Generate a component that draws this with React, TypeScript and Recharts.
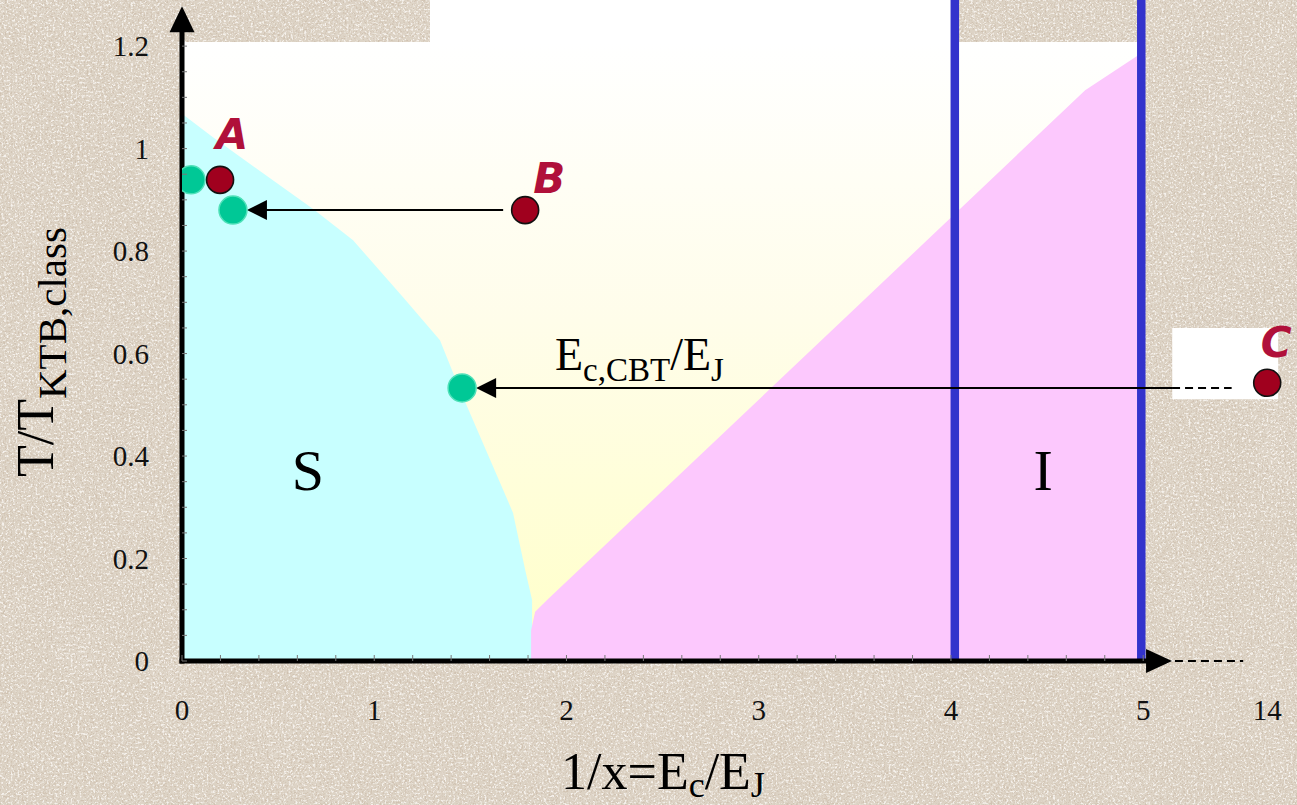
import React from 'react';
import {
  ComposedChart,
  XAxis,
  YAxis,
  Area,
  Scatter,
  ReferenceArea,
  ReferenceLine,
  ReferenceDot,
  Label,
} from 'recharts';

const W = 1297;
const H = 805;
const PLOT_LEFT = 182;
const PLOT_BOTTOM = 661;
const X_MAX = 5.8;
const Y_MAX = 1.29;

// the axis is broken after 5: the far value 14 sits on a short stub
const BREAK_POS = 5.645;
const BREAK_START = 5.15;
const toAxis = (v: number) => (v <= 5 ? v : 5 + ((v - 5) / 9) * (BREAK_POS - 5));

const SERIF = '"Liberation Serif", "DejaVu Serif", serif';
const LETTER_FONT = '"DejaVu Sans", "Noto Sans", sans-serif';

const xTickValues = [0, 1, 2, 3, 4, 5, 14];
const yTickValues = [0, 0.2, 0.4, 0.6, 0.8, 1, 1.2];

// superconducting region S (below this line)
const superBoundary = [
  { x: 0, y: 1.068 },
  { x: 0.161, y: 1.022 },
  { x: 0.682, y: 0.882 },
  { x: 0.89, y: 0.821 },
  { x: 1.15, y: 0.71 },
  { x: 1.342, y: 0.626 },
  { x: 1.446, y: 0.529 },
  { x: 1.722, y: 0.289 },
  { x: 1.785, y: 0.178 },
  { x: 1.821, y: 0.119 },
  { x: 1.821, y: 0 },
];

// insulating region I (below this line)
const insulBoundary = [
  { x: 1.816, y: 0 },
  { x: 1.816, y: 0.06 },
  { x: 1.837, y: 0.096 },
  { x: 1.899, y: 0.119 },
  { x: 3.476, y: 0.679 },
  { x: 4.698, y: 1.114 },
  { x: 4.974, y: 1.182 },
];

// samples: measured (red) and renormalised (green)
const greenPoints = [
  { x: 0.047, y: 0.939 },
  { x: 0.265, y: 0.88 },
  { x: 1.457, y: 0.533 },
];
const redPoints = [
  { name: 'A', x: 0.198, y: 0.939 },
  { name: 'B', x: 1.785, y: 0.88 },
  { name: 'C', x: 14, y: 0.543 },
];

// blue sample lines
const sampleLines = [4.02, 4.99];

const redData = redPoints.map((p) => ({ ...p, x: toAxis(p.x) }));
const arrows = [
  { from: redPoints[1], to: greenPoints[1] },
  { from: redPoints[2], to: greenPoints[2] },
];

const letterOffset: Record<string, [number, number]> = {
  A: [12, -31],
  B: [24, -17],
  C: [9, -26],
};

const xMinor = Array.from({ length: 26 }, (_, i) => +(i * 0.2).toFixed(1));
const xAxisTicks = [...xMinor, BREAK_POS];
const yAxisTicks = Array.from({ length: 25 }, (_, i) => +(i * 0.05).toFixed(2));

const xLabelAt = (v: number) => {
  const t = xTickValues.find((tv) => Math.abs(toAxis(tv) - v) < 1e-6);
  return t === undefined ? null : String(t);
};
const yLabelAt = (v: number) => {
  const t = yTickValues.find((tv) => Math.abs(tv - v) < 1e-6);
  return t === undefined ? null : String(t);
};

const XTick = (props: any) => {
  const { x, payload } = props;
  const label = xLabelAt(payload.value);
  return (
    <g>
      {payload.value <= 5.001 && (
        <line x1={x} x2={x} y1={PLOT_BOTTOM - 6} y2={PLOT_BOTTOM} stroke="#777" strokeWidth={1} />
      )}
      {label && (
        <text x={x} y={720} textAnchor="middle" fontFamily={SERIF} fontSize={29} fill="#111">
          {label}
        </text>
      )}
    </g>
  );
};

const YTick = (props: any) => {
  const { y, payload } = props;
  const label = yLabelAt(payload.value);
  return (
    <g>
      <line x1={PLOT_LEFT} x2={PLOT_LEFT + 5} y1={y} y2={y} stroke="#777" strokeWidth={1} />
      {label && (
        <text x={149} y={y + 10} textAnchor="end" fontFamily={SERIF} fontSize={29} fill="#111">
          {label}
        </text>
      )}
    </g>
  );
};

const GreenDot = (props: any) => (
  <circle cx={props.cx} cy={props.cy} r={14} fill="#00c896" stroke="#4fe0b8" strokeWidth={1.5} />
);

const RedDot = (props: any) => {
  const { cx, cy, payload } = props;
  const [dx, dy] = letterOffset[payload.name] || [14, -28];
  return (
    <g>
      <circle cx={cx} cy={cy} r={13.5} fill="#a0001e" stroke="#111" strokeWidth={1.6} />
      <text
        x={cx + dx}
        y={cy + dy}
        textAnchor="middle"
        fontFamily={LETTER_FONT}
        fontWeight="bold"
        fontStyle="italic"
        fontSize={42}
        fill="#b0103a"
      >
        {payload.name}
      </text>
    </g>
  );
};

// horizontal arrow with a filled head pointing at x2
const ArrowShape = (broken: boolean) => (props: any) => {
  const { x1, x2, y1 } = props;
  const pxPerUnit = (W - PLOT_LEFT) / X_MAX;
  const tip = x2 + 14;
  const start = broken ? PLOT_LEFT + BREAK_START * pxPerUnit : x1 - 22;
  const head = 20;
  return (
    <g>
      <line x1={tip + head - 2} x2={start} y1={y1} y2={y1} stroke="#000" strokeWidth={2} />
      <polygon points={`${tip},${y1} ${tip + head},${y1 - 10} ${tip + head},${y1 + 10}`} fill="#000" />
      {broken && (
        <line
          x1={start}
          x2={PLOT_LEFT + 5.46 * pxPerUnit}
          y1={y1}
          y2={y1}
          stroke="#000"
          strokeWidth={2}
          strokeDasharray="8 5"
        />
      )}
    </g>
  );
};

const XAxisLine = (props: any) => {
  const { x1, x2, y1 } = props;
  return (
    <g>
      <line x1={x1 - 2.5} x2={x2 - 22} y1={y1} y2={y1} stroke="#000" strokeWidth={5} />
      <polygon points={`${x2},${y1} ${x2 - 26},${y1 - 12} ${x2 - 26},${y1 + 12}`} fill="#000" />
    </g>
  );
};

const YAxisLine = (props: any) => {
  const { x1, y1, y2 } = props;
  return (
    <g>
      <line x1={x1} x2={x1} y1={y1 + 2.5} y2={y2 + 22} stroke="#000" strokeWidth={5} />
      <polygon points={`${x1},${y2} ${x1 - 12.5},${y2 + 26} ${x1 + 12.5},${y2 + 26}`} fill="#000" />
    </g>
  );
};

const DashedStub = (props: any) => (
  <line
    x1={props.x1}
    x2={props.x2}
    y1={props.y1}
    y2={props.y2}
    stroke="#000"
    strokeWidth={2}
    strokeDasharray="8 5"
  />
);

const PhaseLetter = (text: string) => (props: any) => (
  <text x={props.cx} y={props.cy} textAnchor="middle" fontFamily={SERIF} fontSize={58} fill="#000">
    {text}
  </text>
);

const RatioText = (props: any) => (
  <text x={props.cx} y={props.cy} textAnchor="start" fontFamily={SERIF} fontSize={46} fill="#000">
    <tspan>E</tspan>
    <tspan fontSize={33} dy={11}>c,CBT</tspan>
    <tspan dy={-11}>/E</tspan>
    <tspan fontSize={33} dy={11}>J</tspan>
  </text>
);

const XTitle = (props: any) => {
  const vb = props.viewBox || { x: PLOT_LEFT, y: PLOT_BOTTOM };
  return (
    <text x={vb.x + 481} y={vb.y + 128} textAnchor="middle" fontFamily={SERIF} fontSize={52} fill="#000">
      <tspan>1/x=E</tspan>
      <tspan fontSize={36} dy={8}>c</tspan>
      <tspan dy={-8}>/E</tspan>
      <tspan fontSize={36} dy={8}>J</tspan>
    </text>
  );
};

const YTitle = () => (
  <text
    x={53}
    y={352}
    textAnchor="middle"
    transform="rotate(-90, 53, 352)"
    fontFamily={SERIF}
    fontSize={52}
    fill="#000"
  >
    <tspan>T/T</tspan>
    <tspan fontSize={41} dy={13}>KTB,class</tspan>
  </text>
);

// stone-like paper behind the chart
const Speckles = () => (
  <svg width={W} height={H} style={{ position: 'absolute', left: 0, top: 0 }}>
    <defs>
      <filter id="grainDark" x="0" y="0" width="100%" height="100%">
        <feTurbulence type="fractalNoise" baseFrequency="0.55" numOctaves={3} seed={4} />
        <feColorMatrix
          type="matrix"
          values="0 0 0 0 0.6  0 0 0 0 0.5  0 0 0 0 0.4  5 0 0 0 -2.6"
        />
      </filter>
      <filter id="grainLight" x="0" y="0" width="100%" height="100%">
        <feTurbulence type="fractalNoise" baseFrequency="0.45" numOctaves={2} seed={11} />
        <feColorMatrix
          type="matrix"
          values="0 0 0 0 0.97  0 0 0 0 0.95  0 0 0 0 0.92  5 0 0 0 -2.55"
        />
      </filter>
      <filter id="mottle" x="0" y="0" width="100%" height="100%">
        <feTurbulence type="fractalNoise" baseFrequency="0.02" numOctaves={2} seed={7} />
        <feColorMatrix
          type="matrix"
          values="0 0 0 0 0.8  0 0 0 0 0.74  0 0 0 0 0.66  2 0 0 0 -0.9"
        />
      </filter>
    </defs>
    <rect width={W} height={H} filter="url(#mottle)" opacity={0.35} />
    <rect width={W} height={H} filter="url(#grainLight)" opacity={0.8} />
    <rect width={W} height={H} filter="url(#grainDark)" opacity={0.7} />
  </svg>
);

export default function App() {
  return (
    <div
      style={{
        position: 'absolute',
        left: 0,
        top: 0,
        width: W,
        height: H,
        background: '#dcd2c4',
        overflow: 'hidden',
      }}
    >
      <Speckles />
      <div style={{ position: 'absolute', left: 0, top: 0 }}>
        <ComposedChart width={W} height={H} margin={{ top: 0, right: 0, bottom: 0, left: 0 }}>
          <defs>
            <linearGradient id="normalFade" x1="0" y1="0" x2="0" y2="1">
              <stop offset="0%" stopColor="#ffffff" />
              <stop offset="45%" stopColor="#fffdea" />
              <stop offset="100%" stopColor="#ffffc8" />
            </linearGradient>
          </defs>
          <XAxis
            type="number"
            dataKey="x"
            domain={[0, X_MAX]}
            allowDataOverflow
            ticks={xAxisTicks}
            interval={0}
            tick={XTick}
            tickLine={false}
            axisLine={false}
            height={H - PLOT_BOTTOM}
          >
            <Label content={XTitle} />
          </XAxis>
          <YAxis
            type="number"
            dataKey="y"
            domain={[0, Y_MAX]}
            allowDataOverflow
            ticks={yAxisTicks}
            interval={0}
            tick={YTick}
            tickLine={false}
            axisLine={false}
            width={PLOT_LEFT}
          >
            <Label content={YTitle} />
          </YAxis>

          <ReferenceArea x1={0} x2={4.974} y1={0} y2={1.208} fill="url(#normalFade)" fillOpacity={1} zIndex={10} />
          <ReferenceArea x1={1.29} x2={4.02} y1={1.208} y2={Y_MAX} fill="#ffffff" fillOpacity={1} zIndex={10} />
          <ReferenceArea x1={5.151} x2={5.702} y1={0.511} y2={0.65} fill="#ffffff" fillOpacity={1} zIndex={10} />

          <Area
            data={superBoundary}
            dataKey="y"
            type="linear"
            baseValue={0}
            fill="#c8ffff"
            fillOpacity={1}
            stroke="none"
            dot={false}
            activeDot={false}
            isAnimationActive={false}
            zIndex={20}
          />
          <Area
            data={insulBoundary}
            dataKey="y"
            type="linear"
            baseValue={0}
            fill="#fcc8fd"
            fillOpacity={1}
            stroke="none"
            dot={false}
            activeDot={false}
            isAnimationActive={false}
            zIndex={20}
          />

          {sampleLines.map((x) => (
            <ReferenceLine key={x} x={x} stroke="#3333cc" strokeWidth={8.5} zIndex={30} />
          ))}

          {arrows.map((a, i) => (
            <ReferenceLine
              key={i}
              segment={[
                { x: toAxis(a.from.x), y: a.to.y },
                { x: a.to.x, y: a.to.y },
              ]}
              ifOverflow="visible"
              shape={ArrowShape(a.from.x > 5)}
              zIndex={40}
            />
          ))}

          <ReferenceLine
            segment={[
              { x: 0, y: 0 },
              { x: BREAK_START, y: 0 },
            ]}
            ifOverflow="visible"
            shape={XAxisLine}
            zIndex={50}
          />
          <ReferenceLine
            segment={[
              { x: BREAK_START + 0.015, y: 0 },
              { x: 5.52, y: 0 },
            ]}
            ifOverflow="visible"
            shape={DashedStub}
            zIndex={50}
          />
          <ReferenceLine
            segment={[
              { x: 0, y: 0 },
              { x: 0, y: 1.278 },
            ]}
            ifOverflow="visible"
            shape={YAxisLine}
            zIndex={50}
          />

          <Scatter data={greenPoints} dataKey="y" shape={GreenDot} isAnimationActive={false} zIndex={60} />
          <Scatter data={redData} dataKey="y" shape={RedDot} isAnimationActive={false} zIndex={60} />

          <ReferenceDot x={0.655} y={0.334} r={0} ifOverflow="visible" shape={PhaseLetter('S')} zIndex={70} />
          <ReferenceDot x={4.479} y={0.334} r={0} ifOverflow="visible" shape={PhaseLetter('I')} zIndex={70} />
          <ReferenceDot x={1.94} y={0.568} r={0} ifOverflow="visible" shape={RatioText} zIndex={70} />
        </ComposedChart>
      </div>
    </div>
  );
}
